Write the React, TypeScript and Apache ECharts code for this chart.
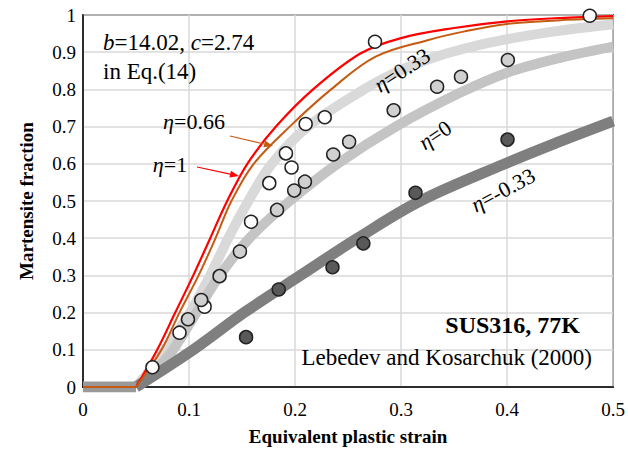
import React, { useEffect, useRef } from "react";
import * as echarts from "echarts";

// ---- model curves ----
const baseX = [0, 0.05];
const baseY = [0, 0];

const eta1X = [0.05, 0.07, 0.087, 0.104, 0.12, 0.136, 0.155, 0.182, 0.217, 0.262, 0.3, 0.35, 0.4, 0.45, 0.5];
const eta1Y = [0, 0.1, 0.2, 0.3, 0.4, 0.5, 0.6, 0.7, 0.8, 0.897, 0.938, 0.965, 0.983, 0.992, 0.997];

const eta066X = [0.05, 0.074, 0.091, 0.109, 0.125, 0.14, 0.161, 0.195, 0.234, 0.276, 0.326, 0.36, 0.4, 0.45, 0.5];
const eta066Y = [0, 0.1, 0.2, 0.3, 0.4, 0.5, 0.6, 0.7, 0.8, 0.888, 0.933, 0.956, 0.976, 0.986, 0.991];

const eta033X = [0.05, 0.07, 0.085, 0.102, 0.12, 0.137, 0.156, 0.178, 0.212, 0.265, 0.3, 0.33, 0.36, 0.4, 0.45, 0.5];
const eta033Y = [0, 0.07, 0.13, 0.205, 0.3, 0.4, 0.5, 0.6, 0.7, 0.8, 0.852, 0.885, 0.91, 0.935, 0.958, 0.975];

const eta0X = [0.05, 0.07, 0.085, 0.107, 0.129, 0.157, 0.195, 0.24, 0.295, 0.355, 0.4, 0.45, 0.5];
const eta0Y = [0, 0.05, 0.1, 0.2, 0.3, 0.4, 0.5, 0.6, 0.7, 0.79, 0.845, 0.885, 0.915];

const etaM033X = [0.05, 0.104, 0.152, 0.205, 0.259, 0.318, 0.398, 0.45, 0.5];
const etaM033Y = [0, 0.1, 0.2, 0.3, 0.4, 0.5, 0.6, 0.66, 0.715];

// ---- experimental points ----
const whiteX = [0.0655, 0.091, 0.1147, 0.1585, 0.1757, 0.1967, 0.1914, 0.21, 0.228, 0.2754, 0.478];
const whiteY = [0.053, 0.146, 0.216, 0.444, 0.548, 0.59, 0.628, 0.707, 0.725, 0.928, 0.998];

const greyX = [0.099, 0.1115, 0.1288, 0.148, 0.183, 0.1992, 0.2093, 0.236, 0.251, 0.293, 0.334, 0.3565, 0.4007];
const greyY = [0.182, 0.234, 0.298, 0.364, 0.476, 0.528, 0.552, 0.625, 0.659, 0.744, 0.807, 0.834, 0.879];

const darkX = [0.1538, 0.1846, 0.2353, 0.2644, 0.3136, 0.4004];
const darkY = [0.134, 0.262, 0.322, 0.386, 0.522, 0.665];

const xTitle = "Equivalent plastic strain";
const yTitle = "Martensite fraction";

function zip(xs: number[], ys: number[]) {
  return xs.map((x, i) => [x, ys[i]]);
}

const FONT = "Liberation Serif";

function arrow(x1: number, y1: number, x2: number, y2: number, color: string) {
  const dx = x2 - x1;
  const dy = y2 - y1;
  const len = Math.sqrt(dx * dx + dy * dy);
  const ux = dx / len;
  const uy = dy / len;
  const hl = 9;
  const hw = 3.5;
  const bx = x2 - ux * hl;
  const by = y2 - uy * hl;
  return [
    {
      type: "line",
      shape: { x1, y1, x2: bx, y2: by },
      style: { stroke: color, lineWidth: 1.2 },
      silent: true,
      z: 10,
    },
    {
      type: "polygon",
      shape: {
        points: [
          [x2, y2],
          [bx - uy * hw, by + ux * hw],
          [bx + uy * hw, by - ux * hw],
        ],
      },
      style: { fill: color },
      silent: true,
      z: 10,
    },
  ];
}

function label(text: string, x: number, y: number, rotDeg: number, opts: any = {}) {
  const size = opts.size || 22;
  return {
    type: "text",
    x,
    y,
    rotation: (rotDeg * Math.PI) / 180,
    silent: true,
    z: 10,
    style: {
      text,
      fill: "#000",
      fontFamily: FONT,
      fontSize: size,
      fontWeight: opts.bold ? "bold" : "normal",
      align: opts.align || "center",
      textAlign: opts.align || "center",
      verticalAlign: "middle",
      textVerticalAlign: "middle",
      rich: {
        i: { fontStyle: "italic", fontFamily: FONT, fontSize: size, fill: "#000" },
      },
    },
  };
}

export default function App() {
  const ref = useRef<HTMLDivElement>(null);
  useEffect(() => {
    const chart = echarts.init(ref.current!, null, { renderer: "svg" });
    const band = (name: string, xs: number[], ys: number[], color: string, width: number, z: number) => ({
      name,
      type: "line",
      data: zip(xs, ys),
      smooth: 0.35,
      symbol: "none",
      silent: true,
      z,
      lineStyle: { color, width },
    });
    const pts = (name: string, xs: number[], ys: number[], fill: string) => ({
      name,
      type: "scatter",
      data: zip(xs, ys),
      symbol: "circle",
      symbolSize: 13,
      silent: true,
      z: 6,
      itemStyle: { color: fill, borderColor: "#222", borderWidth: 1.5, opacity: 1 },
    });
    chart.setOption({
      animation: false,
      backgroundColor: "#fff",
      textStyle: { fontFamily: FONT },
      grid: {
        left: 83,
        top: 15,
        width: 532,
        height: 372,
        show: true,
        borderColor: "#000",
        borderWidth: 1.5,
      },
      xAxis: {
        type: "value",
        min: 0,
        max: 0.5,
        interval: 0.1,
        axisLine: { show: true, lineStyle: { color: "#000", width: 1.5 } },
        axisTick: { show: false },
        splitLine: { show: true, lineStyle: { color: "#d9d9d9", width: 1.5 } },
        axisLabel: { color: "#000", fontFamily: FONT, fontSize: 19, margin: 13 },
        name: xTitle,
        nameLocation: "middle",
        nameGap: 40,
        nameTextStyle: { color: "#000", fontFamily: FONT, fontSize: 19, fontWeight: "bold" },
      },
      yAxis: {
        type: "value",
        min: 0,
        max: 1,
        interval: 0.1,
        axisLine: { show: true, lineStyle: { color: "#000", width: 1.5 } },
        axisTick: { show: false },
        splitLine: { show: true, lineStyle: { color: "#d9d9d9", width: 1.5 } },
        axisLabel: { color: "#000", fontFamily: FONT, fontSize: 19, margin: 7 },
        name: yTitle,
        nameLocation: "middle",
        nameRotate: 90,
        nameGap: 47,
        nameTextStyle: { color: "#000", fontFamily: FONT, fontSize: 19, fontWeight: "bold" },
      },
      series: [
        band("η=0.33", eta033X, eta033Y, "#d9d9d9", 10, 2),
        band("η=0", eta0X, eta0Y, "#c4c4c4", 10, 2),
        band("η=-0.33", etaM033X, etaM033Y, "#7f7f7f", 11, 2),
        band("base", baseX, baseY, "#999999", 11, 2),
        band("η=1", eta1X, eta1Y, "#ff0000", 2.2, 3),
        band("η=0.66", eta066X, eta066Y, "#c55a11", 2, 3),
        band("base0.66", baseX, baseY, "#c55a11", 2, 3),
        pts("white", whiteX, whiteY, "#ffffff"),
        pts("grey", greyX, greyY, "#d0d0d0"),
        pts("dark", darkX, darkY, "#595959"),
      ],
      graphic: [
        label("{i|b}=14.02, {i|c}=2.74", 103, 42, 0, { align: "left", size: 23 }),
        label("in Eq.(14)", 103, 71, 0, { align: "left", size: 23 }),
        label("{i|η}=0.66", 194, 121, 0),
        label("{i|η}=1", 170, 164, 0),
        label("{i|η}=0.33", 402, 70, 33),
        label("{i|η}=0", 435, 135, 34),
        label("{i|η}=-0.33", 503, 190, 28),
        label("SUS316, 77K", 580, 325, 0, { align: "right", bold: true, size: 24 }),
        label("Lebedev and Kosarchuk (2000)", 592, 357, 0, { align: "right", size: 23 }),
        ...arrow(230, 136, 273, 146, "#c55a11"),
        ...arrow(197, 167, 239, 176, "#ff0000"),
      ],
    });
    return () => chart.dispose();
  }, []);
  return (
    <div
      ref={ref}
      style={{ position: "fixed", left: 0, top: 0, width: 628, height: 451, background: "#fff" }}
    />
  );
}
